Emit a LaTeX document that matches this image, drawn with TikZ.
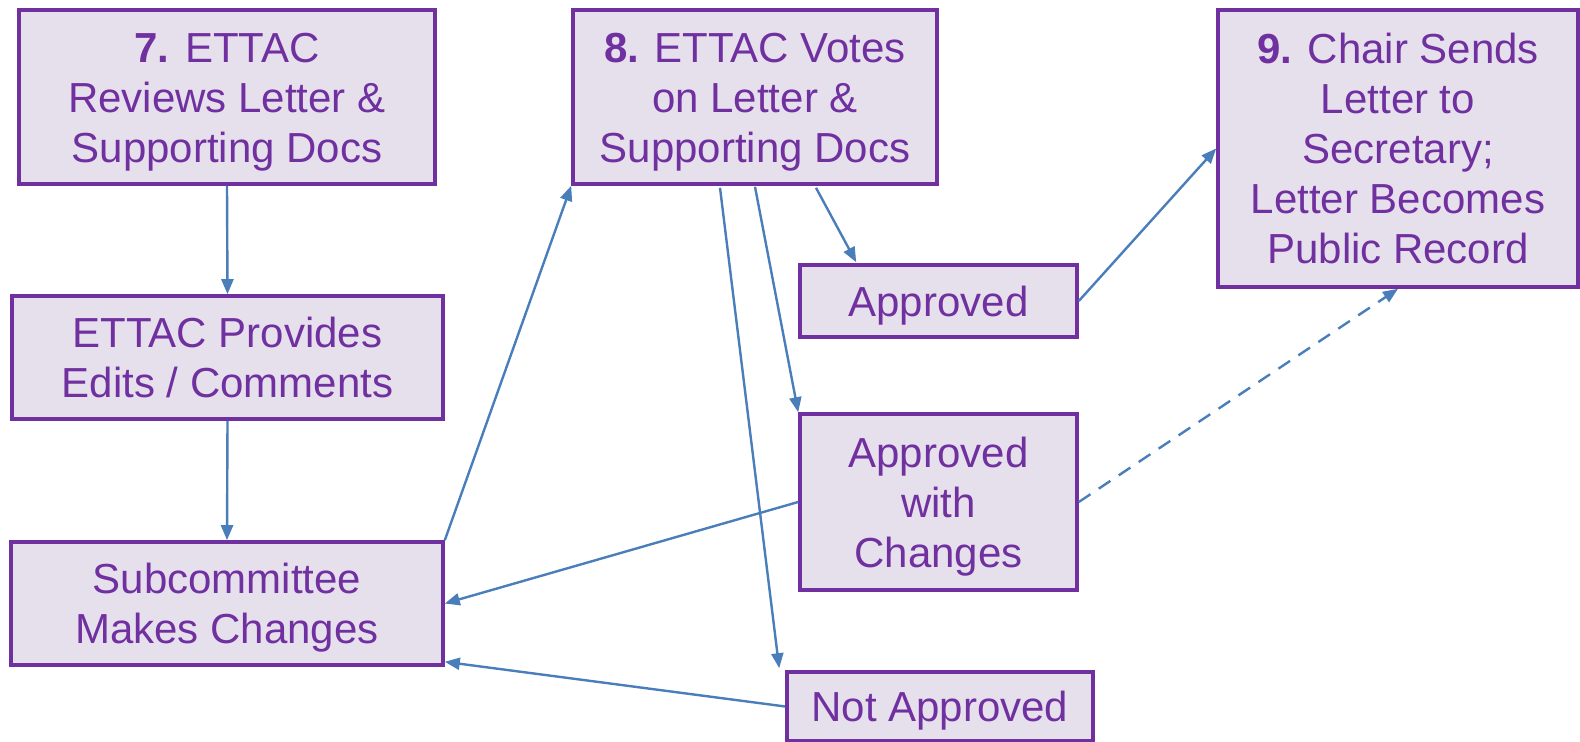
\documentclass[tikz,border=0pt]{standalone}
\usepackage{fontspec}
\setmainfont{Liberation Sans}
\usetikzlibrary{positioning, arrows.meta, calc}
\definecolor{boxfill}{HTML}{E6E0EC}
\definecolor{boxline}{HTML}{7030A0}
\definecolor{arrowblue}{HTML}{4A7EBB}
% fixed line height / depth, as in the slide's text boxes
\newcommand{\hstrut}{\rule{0pt}{20.3pt}}
\newcommand{\dstrut}{\rule[-5pt]{0pt}{0pt}}

\begin{document}
\begin{tikzpicture}[x=0.5pt, y=-0.5pt,
  stepbox/.style={draw=boxline, fill=boxfill, line width=1.8pt, text=boxline, align=center, inner sep=0pt, font=\fontsize{21}{25}\selectfont},
  link/.style={draw=arrowblue, line width=1.2pt, -{Triangle[length=7.5pt,width=6pt]}}]
\useasboundingbox (0,0) rectangle (1580,742);

\node[stepbox, minimum width=208pt, minimum height=87pt] (review) at (227,97) {\hstrut\textbf{7.} ETTAC\\Reviews Letter \&\\Supporting Docs\dstrut};
\node[stepbox, minimum width=182pt, minimum height=87pt] (votes) at (755,97) {\hstrut\textbf{8.} ETTAC Votes\\on Letter \&\\Supporting Docs\dstrut};
\node[stepbox, minimum width=180pt, minimum height=138.5pt] (sends) at (1398,148.5) {\hstrut\textbf{9.} Chair Sends\\Letter to\\Secretary;\\Letter Becomes\\Public Record\dstrut};
\node[stepbox, minimum width=215.5pt, minimum height=61.5pt] (edits) at (227.5,357.5) {\hstrut ETTAC Provides\\Edits / Comments\dstrut};
\node[stepbox, minimum width=216pt, minimum height=61.5pt] (subc) at (227,603.5) {\hstrut Subcommittee\\Makes Changes\dstrut};
\node[stepbox, minimum width=138.5pt, minimum height=36pt] (appr) at (938.5,301) {\hstrut Approved\dstrut};
\node[stepbox, minimum width=138.5pt, minimum height=88pt] (awc) at (938.5,502) {\hstrut Approved\\with\\Changes\dstrut};
\node[stepbox, minimum width=153pt, minimum height=34.5pt] (notappr) at (940,706.5) {\hstrut Not Approved\dstrut};

\draw[link] (review.south) -- (edits.north);
\draw[link] (edits.south) -- (subc.north);
\draw[link] (subc.north east) -- (votes.south west);
\draw[link] ($(votes.south)+(61,2)$) -- ($(appr.north west)+(58,-1)$);
\draw[link] ($(votes.south)+(0,1)$) -- (awc.north west);
\draw[link] ($(votes.south)+(-35,2)$) -- ($(notappr.north west)+(-6,-2)$);
\draw[link] (appr.east) -- (sends.west);
\draw[link, dash pattern=on 7pt off 5pt] (awc.east) -- (sends.south);
\draw[link] (awc.west) -- (subc.east);
\draw[link] (notappr.west) -- ($(subc.south east)+(0,-5)$);
\end{tikzpicture}
\end{document}
